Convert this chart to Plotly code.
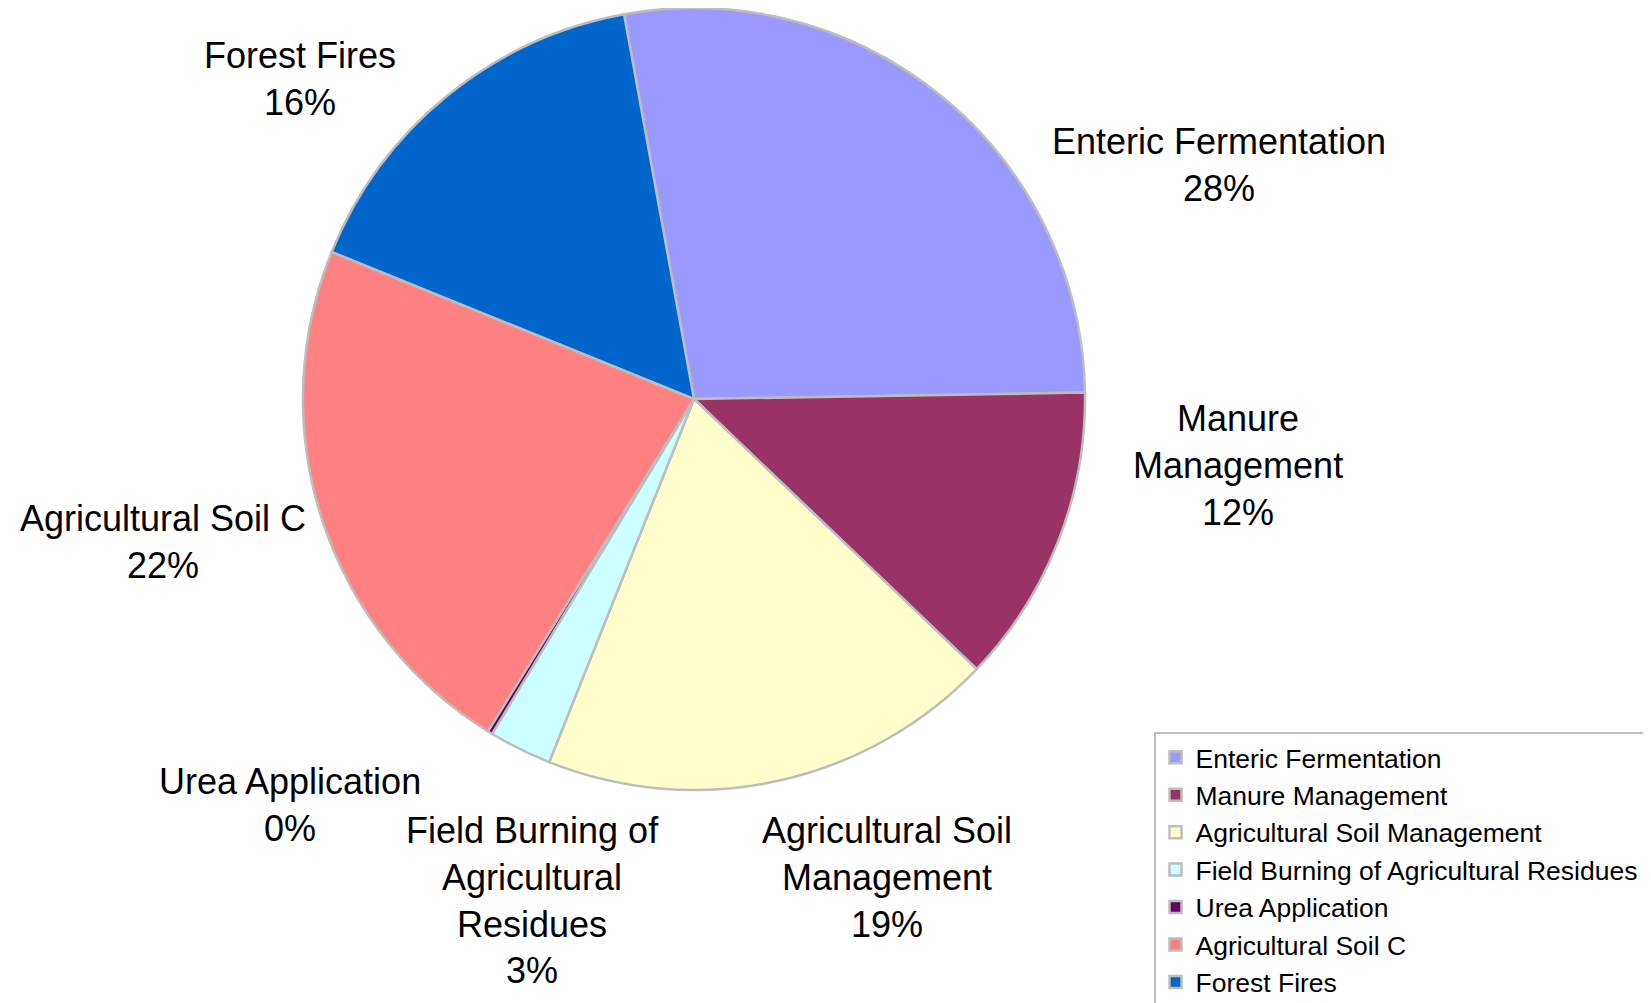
import plotly.graph_objects as go

# ---- data ----
categories = [
    "Enteric Fermentation",
    "Manure Management",
    "Agricultural Soil Management",
    "Field Burning of Agricultural Residues",
    "Urea Application",
    "Agricultural Soil C",
    "Forest Fires",
]
values = [27.6, 12.4, 18.9, 2.6, 0.2, 22.3, 16.0]
label_lines = [
    "Enteric Fermentation",
    "Manure<br>Management",
    "Agricultural Soil<br>Management",
    "Field Burning of<br>Agricultural<br>Residues",
    "Urea Application",
    "Agricultural Soil C",
    "Forest Fires",
]

# ---- styles / layout ----
colors = ["#9999FF", "#993366", "#FFFFCC", "#CCFFFF", "#660066", "#FF8080", "#0066CC"]
W, H = 1651, 1003
OFF = 8  # page body margin compensation
label_pos_px = [(1219, 165), (1238, 465), (887, 877), (532, 900),
                (290, 805), (163, 542), (300, 79)]
FONT = "Liberation Sans, Arial, Helvetica, sans-serif"

cx, cy, r = 694 - OFF, 399 - OFF, 391
total = sum(values)

fig = go.Figure()
fig.add_trace(go.Pie(
    labels=categories,
    values=values,
    sort=False,
    direction="clockwise",
    rotation=-10.3,
    textinfo="none",
    marker=dict(colors=colors, line=dict(color="#BDBDBD", width=2.5)),
    domain=dict(x=[(cx - r) / W, (cx + r) / W], y=[1 - (cy + r) / H, 1 - (cy - r) / H]),
    hoverinfo="label+percent",
))

annotations = []
for txt, v, (px, py) in zip(label_lines, values, label_pos_px):
    pct = int(round(v / total * 100))
    annotations.append(dict(
        text=f"{txt}<br>{pct}%",
        x=(px - OFF) / W, y=1 - (py - OFF) / H, xref="paper", yref="paper",
        xanchor="center", yanchor="middle", showarrow=False,
        align="center",
        font=dict(family=FONT, size=36, color="black"),
    ))

fig.update_layout(
    width=W, height=H,
    margin=dict(l=0, r=0, t=0, b=0, autoexpand=False),
    paper_bgcolor="white",
    plot_bgcolor="white",
    annotations=annotations,
    showlegend=True,
    legend=dict(
        x=(1154 - OFF) / W, y=1 - (732 - OFF) / H, xanchor="left", yanchor="top",
        bgcolor="white", bordercolor="#BFBFBF", borderwidth=1.5,
        font=dict(family=FONT, size=26.5, color="black"),
        traceorder="normal",
    ),
)

fig.write_html("out.html")
